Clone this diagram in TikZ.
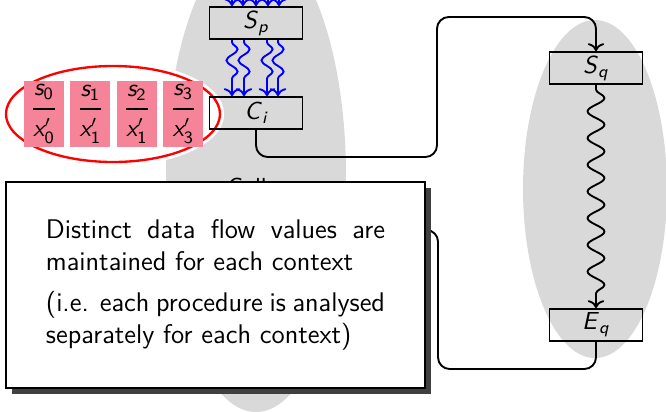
\documentclass[tikz,border=0pt]{standalone}
\usepackage{amsmath}
\usepackage{tikz}
\usetikzlibrary{arrows.meta, positioning, shapes.geometric, shadows, decorations.pathmorphing}
\definecolor{ctxpink}{RGB}{246,132,152}
\definecolor{procgray}{RGB}{217,217,217}
% sans italic variables, as on the slide
\newcommand{\sv}[2]{\textit{#1}$_{\text{\itshape #2}}$}
\newcommand{\ctxfrac}[2]{$\genfrac{}{}{1.1pt}{0}{\text{\itshape s}_{\text{#1}}}{\text{\itshape x}'_{\text{#2}}}$}

\begin{document}
\begin{tikzpicture}[
      x=0.015cm, y=-0.015cm,
      font=\sffamily\fontsize{10.5}{12.6}\selectfont,
      node distance=2.35pt,
      block/.style={rectangle, draw=black, thick, minimum width=1.395cm,
                    minimum height=0.48cm, inner sep=0pt},
      ctx/.style={rectangle, fill=ctxpink, minimum width=0.6cm,
                  minimum height=0.99cm, inner sep=0pt},
      flow/.style={->, thick, blue, decorate,
                   decoration={snake, amplitude=2.4pt, segment length=9.5pt,
                               pre length=1pt, post length=4pt}},
      link/.style={thick, rounded corners=5pt},
      note/.style={rectangle, draw=black, thick, fill=white,
                   text width=5.085cm, inner xsep=0.6cm,
                   minimum height=3.09cm, align=justify,
                   font=\sffamily\fontsize{11.5}{13.6}\selectfont,
                   drop shadow={shadow xshift=2.6pt, shadow yshift=-2.6pt,
                                fill=black!75, opacity=1}}
    ]
    \useasboundingbox (0,0) rectangle (666,411);
    \clip (0,0) rectangle (666,411);

    % procedures
    \fill[procgray] (256,176) ellipse [x radius=90, y radius=236];
    \fill[procgray] (595,189) ellipse [x radius=72, y radius=169];

    % contexts
    \node[ellipse, draw=white, line width=3.5pt, fill=white,
          minimum width=3.21cm, minimum height=1.44cm] (ctxs) at (113,114) {};
    \draw[red, line width=1pt] (ctxs.center) ellipse [x radius=107, y radius=48];
    \node[ctx] (c0) at (44,114) {\ctxfrac{0}{0}};
    \node[ctx, right=of c0] (c1) {\ctxfrac{1}{1}};
    \node[ctx, right=of c1] (c2) {\ctxfrac{2}{1}};
    \node[ctx, right=of c2] (c3) {\ctxfrac{3}{3}};

    \node[block] (sp) at (256,23) {\sv{S}{p}};
    \node[block] (ci) at (256,113) {\sv{C}{i}};
    \node[block] (sq) at (596,68) {\sv{S}{q}};
    \node[block] (eq) at (596,325) {\sv{E}{q}};
    \node[anchor=base west, inner sep=0pt] (call) at (227,195) {Call};

    \foreach \x [count=\i] in {232,243,256,268,279} {
      \coordinate (in\i) at (\x,-60);
      \draw[flow, decoration={post length=8pt}] (in\i) -- (in\i |- sp.north);
    }
    \foreach \x in {232,244,267,278}
      \draw[flow] (sp.south -| \x,0) -- (ci.north -| \x,0);

    \draw[link, ->] (ci.south) |- (437,157) -- (437,17) -| (sq.north);
    \draw[->, thick, decorate,
          decoration={snake, amplitude=3.6pt, segment length=11.4pt,
                      pre length=2pt, post length=4pt}] (sq.south) -- (eq.north);
    \coordinate (ret) at (300,230);
    \draw[link] (eq.south) |- (438,369) -- (438,230) -- (ret);

    \node[note] (msg) at (215.5,285)
      {Distinct data flow values are maintained for each context\par
       \vspace{4pt}(i.e. each procedure is analysed separately for each context)};
  \end{tikzpicture}
\end{document}
